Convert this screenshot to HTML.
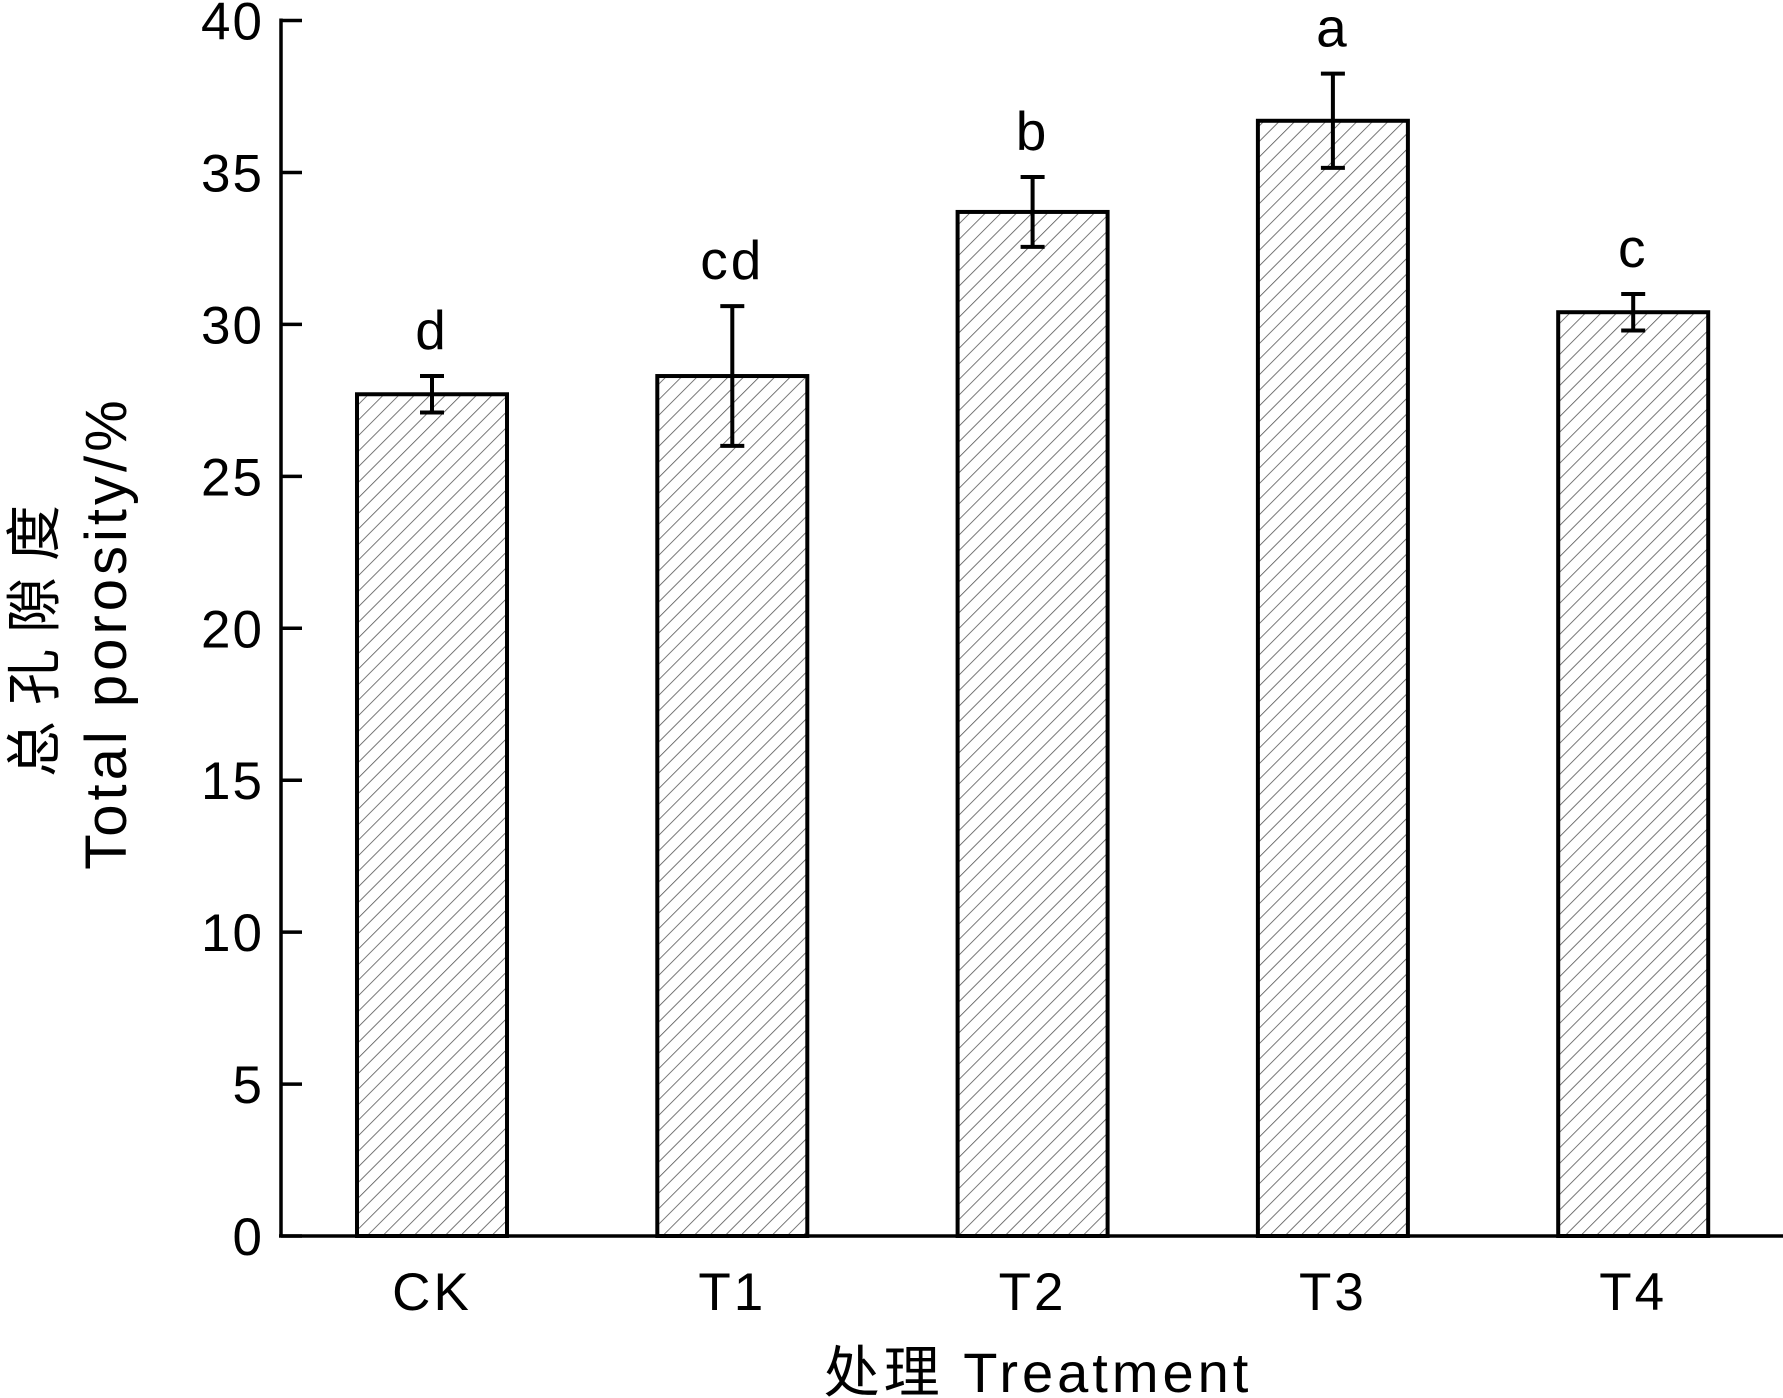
<!DOCTYPE html>
<html><head><meta charset="utf-8"><style>
html,body{margin:0;padding:0;background:#fff;}
svg{display:block;}
text{font-family:"Liberation Sans","Noto Sans CJK SC",sans-serif;fill:#000;}
</style></head>
<body>
<svg id="chart" width="1783" height="1398" viewBox="0 0 1783 1398" xmlns="http://www.w3.org/2000/svg">
<defs>
<pattern id="hatch" patternUnits="userSpaceOnUse" width="11" height="11" patternTransform="rotate(45)">
<rect width="11" height="11" fill="#fff"/>
<line x1="0" y1="0" x2="0" y2="11" stroke="#555" stroke-width="1.6"/>
</pattern>
</defs>
<g id="axes"></g>
<g id="bars"></g>
<text transform="translate(54,633) rotate(-90)" text-anchor="middle" font-size="56" letter-spacing="16">总孔隙度</text>
<text transform="translate(126,633) rotate(-90)" text-anchor="middle" font-size="58" letter-spacing="4">Total porosity/%</text>
<text x="1038" y="1392" text-anchor="middle" font-size="56" letter-spacing="4">处理 Treatment</text>
</svg>
<script>
const categories = ["CK","T1","T2","T3","T4"];
const values = [27.7,28.3,33.7,36.7,30.4];
const errors = [0.6,2.3,1.15,1.55,0.6];
const letters = ["d","cd","b","a","c"];
const yTicks = [0,5,10,15,20,25,30,35,40];

const NS="http://www.w3.org/2000/svg";
const x0=281, xEnd=1783, y0=1236, y40=20.5;
const yScale=v=>y0-(v/40)*(y0-y40);
const xCenter=i=>432+i*300.3;
const barW=150;
function mk(tag,attrs,parent){const e=document.createElementNS(NS,tag);for(const k in attrs)e.setAttribute(k,attrs[k]);parent.appendChild(e);return e;}
const axes=document.getElementById('axes'), bars=document.getElementById('bars');

let yl=mk('line',{x1:x0,y1:y40-2,x2:x0,y2:y0,stroke:'#000','stroke-width':3.5},axes);


let xl=mk('line',{x1:x0-2,y1:y0,x2:xEnd,y2:y0,stroke:'#000','stroke-width':3.5},axes);



yTicks.forEach(t=>{
  const y=yScale(t);
  const tk=mk('line',{x1:x0,y1:y,x2:x0+21,y2:y,stroke:'#000','stroke-width':3.5},axes);
  
  
  const tx=mk('text',{x:264,y:y+19,'text-anchor':'end','font-size':53,'letter-spacing':2},axes);
  tx.textContent=t;
  
  
});

categories.forEach((c,i)=>{
  const cx=xCenter(i), v=values[i], e=errors[i];
  const r=mk('rect',{x:cx-barW/2,y:yScale(v),width:barW,height:y0-yScale(v),fill:'url(#hatch)',stroke:'#000','stroke-width':4},bars);
  
  
  const g=mk('g',{stroke:'#000','stroke-width':4},bars);
  
  
  const yt=yScale(v+e), yb=yScale(v-e);
  mk('line',{x1:cx,y1:yt,x2:cx,y2:yb},g);
  mk('line',{x1:cx-12,y1:yt,x2:cx+12,y2:yt},g);
  mk('line',{x1:cx-12,y1:yb,x2:cx+12,y2:yb},g);
  const lt=mk('text',{x:cx,y:yt-27,'text-anchor':'middle','font-size':55,'letter-spacing':3},bars);
  lt.textContent=letters[i];
  
  
  const xt=mk('text',{x:cx,y:1310,'text-anchor':'middle','font-size':53,'letter-spacing':3},axes);
  xt.textContent=c;
  
  
});
</script>
</body></html>
